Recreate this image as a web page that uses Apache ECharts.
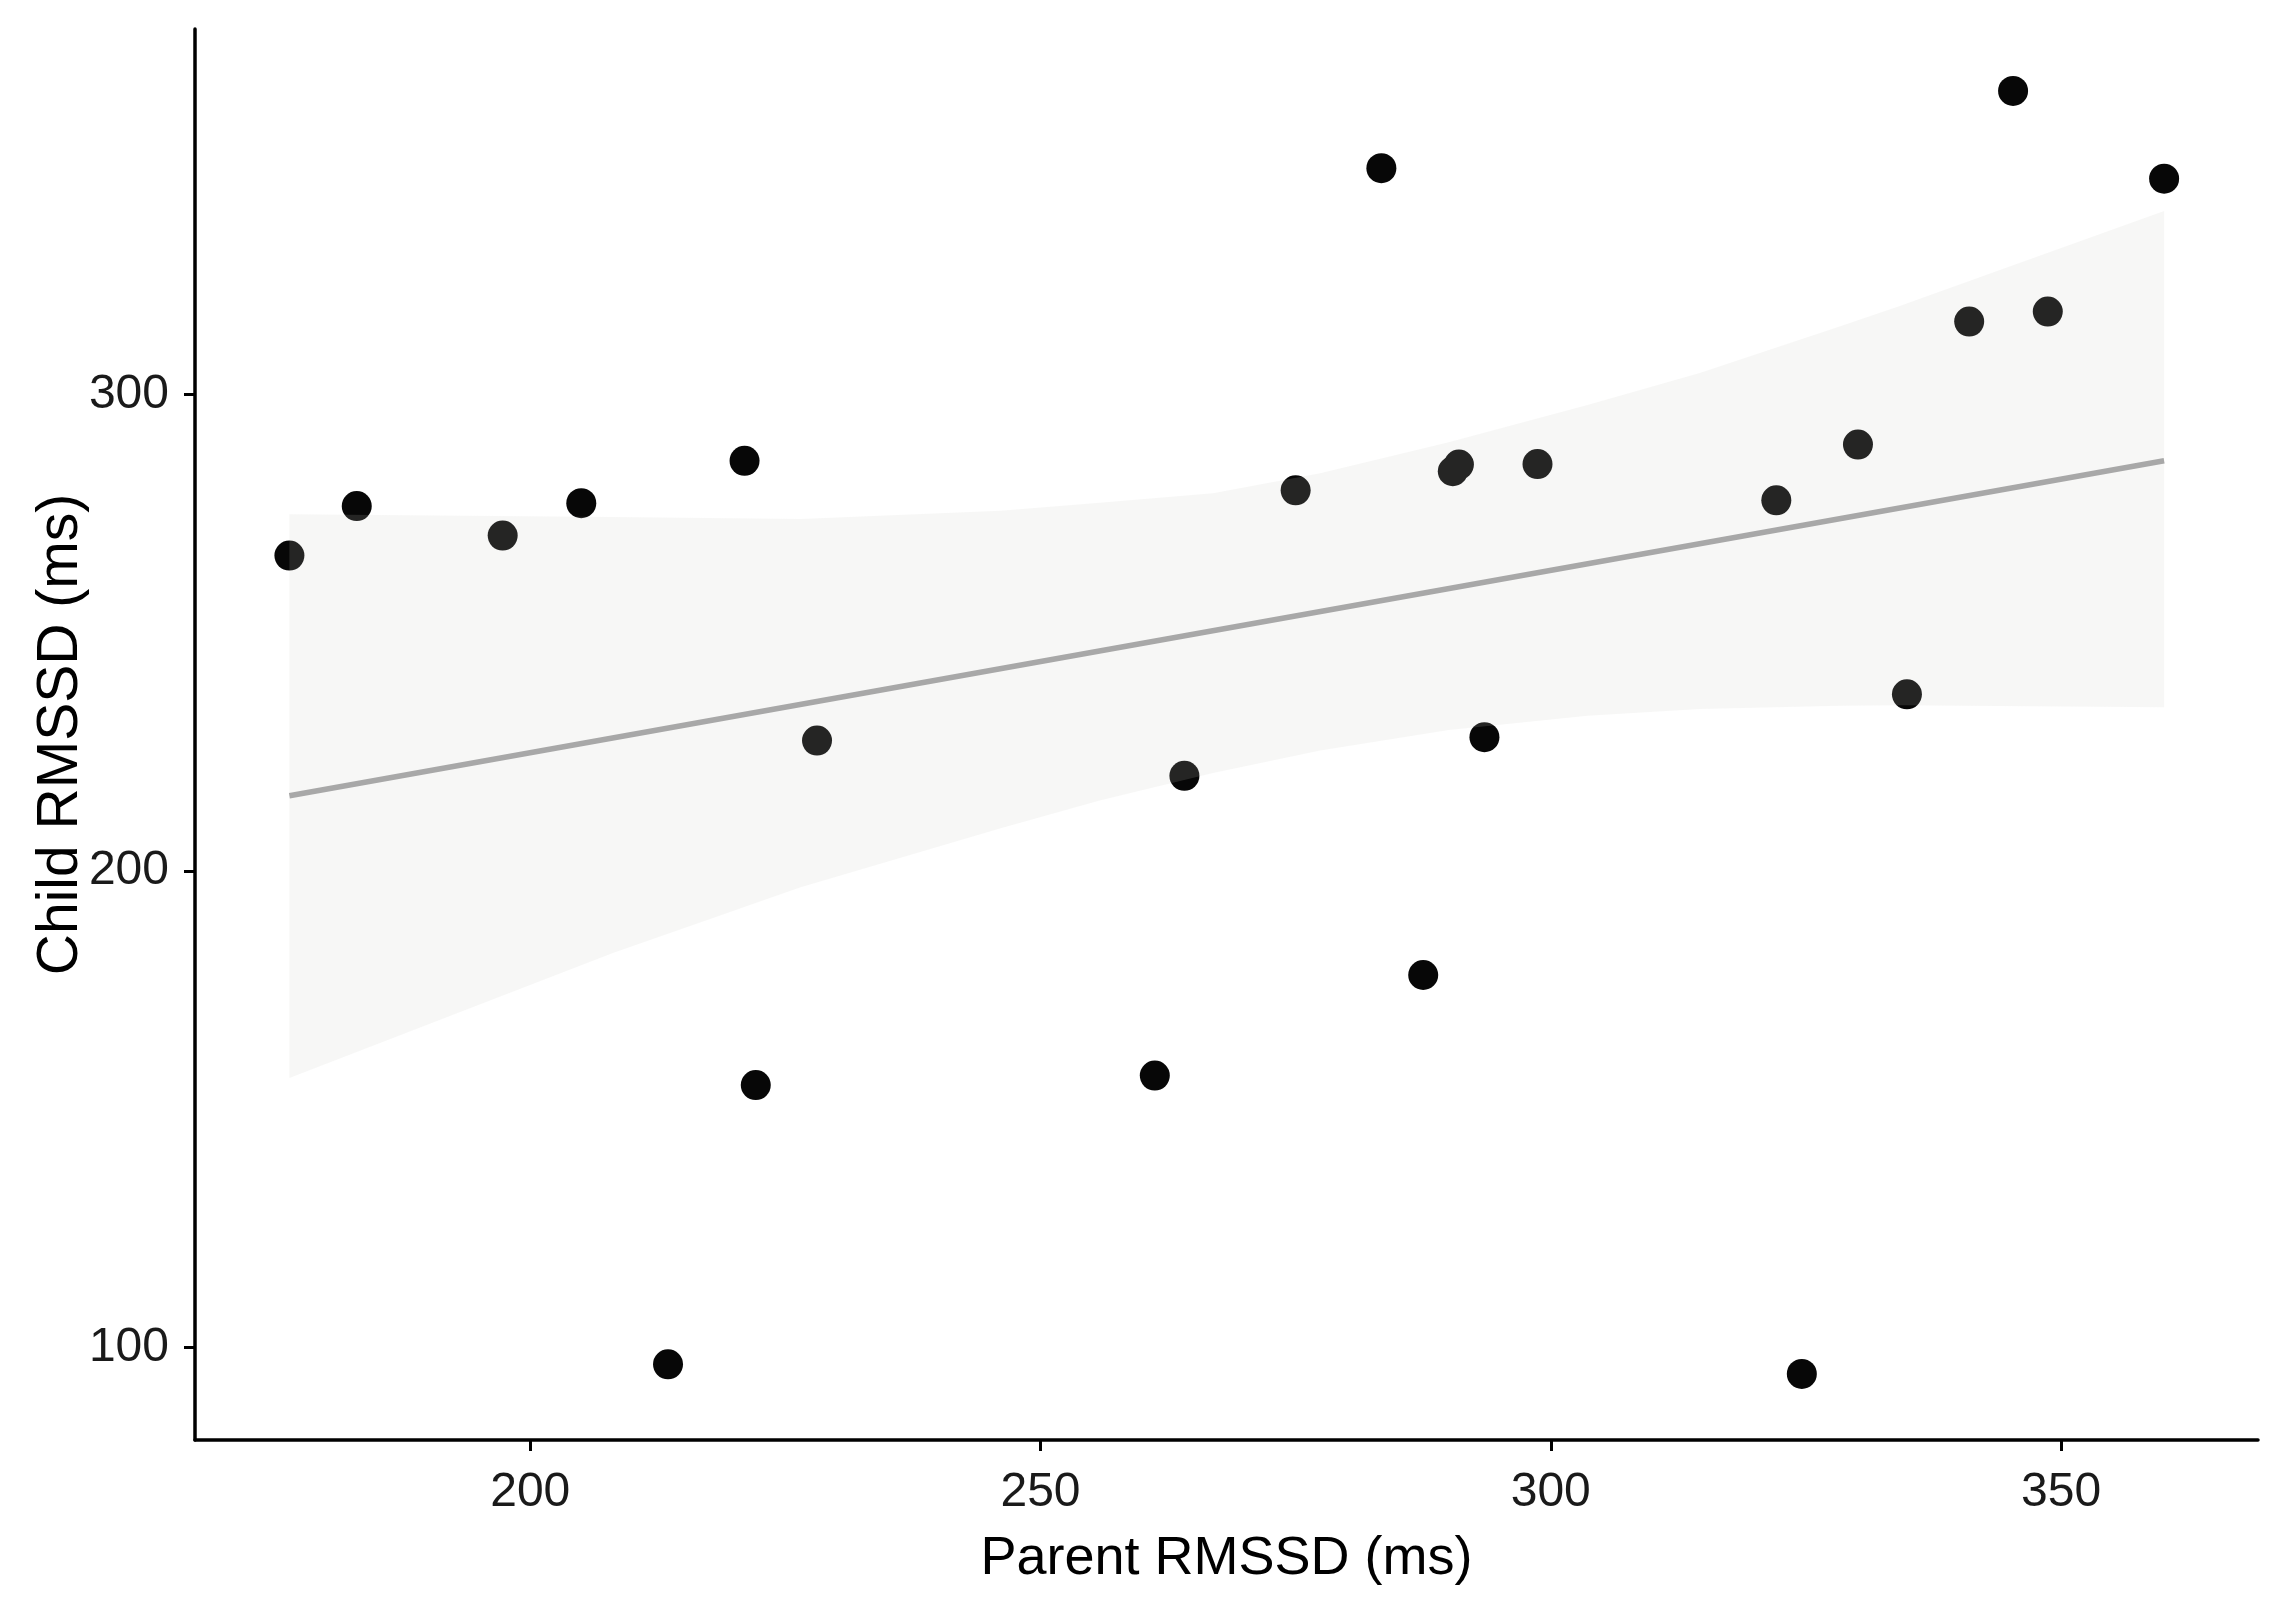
<!DOCTYPE html>
<html>
<head>
<meta charset="utf-8">
<script src="https://cdn.jsdelivr.net/npm/echarts@6/dist/echarts.min.js"></script>
<style>
  html, body { margin: 0; padding: 0; background: #fff; }
  #container { width: 2295px; height: 1615px; }
</style>
</head>
<body>
<div id="container"></div>
<script>
  // points
  var parentRmssd = [176.4, 183.0, 197.3, 205.0, 221.0, 213.5, 222.1, 228.1, 261.2, 264.1,
                     275.0, 283.4, 287.5, 290.4, 291.0, 293.5, 298.7, 322.1, 324.6, 330.1,
                     334.9, 341.0, 345.3, 348.7, 360.1];
  var childRmssd  = [266.2, 276.6, 270.4, 277.2, 286.1, 96.5, 155.1, 227.4, 157.1, 220.0,
                     279.9, 347.5, 178.2, 283.9, 285.3, 228.1, 285.4, 277.8, 94.5, 289.5,
                     237.1, 315.3, 363.7, 317.4, 345.3];

  // fitted line and confidence band
  var fitX = [176.4, 360.1];
  var fitY = [215.8, 286.1];
  var bandX     = [176.4, 208.1, 226.5, 246.1, 255.8, 266.9, 277.4, 290.0, 303.6, 314.6, 328.3, 334.2, 360.1];
  var bandUpper = [274.9, 274.3, 273.9, 275.6, 277.3, 279.3, 283.5, 290.0, 297.8, 304.5, 314.3, 318.6, 338.5];
  var bandLower = [156.6, 182.8, 196.6, 209.0, 214.8, 220.6, 225.3, 229.6, 232.6, 234.0, 234.7, 234.8, 234.4];

  var xTicks = [200, 250, 300, 350];
  var yTicks = [100, 200, 300];

  var dom = document.getElementById("container");
  var myChart = echarts.init(dom);
  var font = '"Liberation Sans", Arial, sans-serif';

  var points = parentRmssd.map(function (v, i) { return [v, childRmssd[i]]; });
  var fitLine = fitX.map(function (v, i) { return [v, fitY[i]]; });
  var bandPoly = [];
  bandX.forEach(function (v, i) { bandPoly.push([v, bandUpper[i]]); });
  for (var i = bandX.length - 1; i >= 0; i--) bandPoly.push([bandX[i], bandLower[i]]);

  var option = {
      backgroundColor: '#fff',
      animation: false,
      grid: { left: 195, right: 37, top: 29, bottom: 175, containLabel: false },

      //x轴设置
      xAxis: {
          type: 'value',
          min: 167.15, max: 369.3,
          name: 'Parent RMSSD (ms)',
          nameLocation: 'middle',
          nameGap: 92,
          nameMoveOverlap: false,
          nameTextStyle: { fontFamily: font, fontSize: 54, color: '#000' },
          axisLine: { lineStyle: { color: '#000', width: 3.5 } },
          axisTick: { customValues: xTicks, length: 11, lineStyle: { color: '#000', width: 3 } },
          axisLabel: { customValues: xTicks, margin: 29, fontFamily: font, fontSize: 48, color: '#1a1a1a' },
          splitLine: { show: false }
      },
      yAxis: {
          type: 'value',
          min: 80.63, max: 376.7,
          name: 'Child RMSSD (ms)',
          nameLocation: 'middle',
          nameGap: 105,
          nameMoveOverlap: false,
          nameTextStyle: { fontFamily: font, fontSize: 57, color: '#000' },
          axisLine: { show: true, lineStyle: { color: '#000', width: 3.5 } },
          axisTick: { show: true, customValues: yTicks, length: 11, lineStyle: { color: '#000', width: 3 } },
          axisLabel: { customValues: yTicks, margin: 26, fontFamily: font, fontSize: 48, color: '#1a1a1a' },
          splitLine: { show: false }
      },
      series: [
          {
              type: 'scatter',
              data: points,
              symbol: 'circle',
              symbolSize: 30,
              itemStyle: { color: '#070707', opacity: 1 },
              z: 2
          },
          {
              // confidence band, drawn over the points like the original
              type: 'custom',
              data: [0],
              renderItem: function (params, api) {
                  return {
                      type: 'polygon',
                      shape: { points: bandPoly.map(function (p) { return api.coord(p); }) },
                      style: { fill: 'rgba(204,204,200,0.157)' }
                  };
              },
              silent: true,
              z: 3
          },
          {
              type: 'line',
              data: fitLine,
              symbol: 'none',
              lineStyle: { color: '#a8a8a8', width: 5.5 },
              z: 4
          }
      ]
  };
  if (option && typeof option === "object") {
      myChart.setOption(option, true);
  }
</script>
</body>
</html>
